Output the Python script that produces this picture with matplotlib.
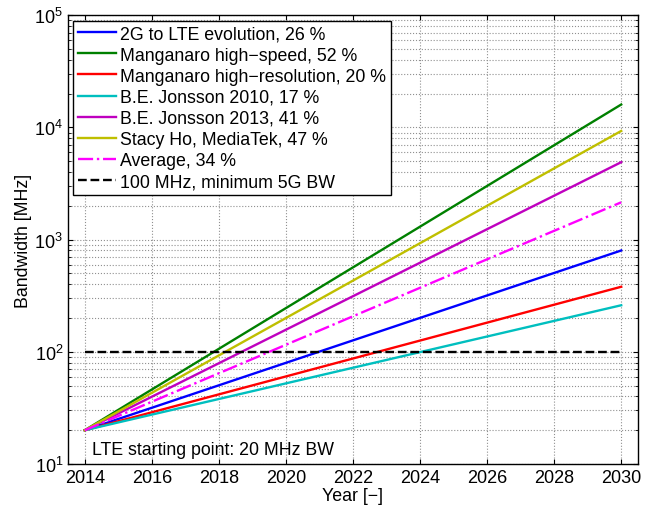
import numpy as np
import matplotlib
matplotlib.use('Agg')
from matplotlib import pyplot as plt

# start / end years and bandwidth
years = [2014, 2030]
start_bw = 20
labels = ['2G to LTE evolution, 26 %',
          'Manganaro high\u2212speed, 52 %',
          'Manganaro high\u2212resolution, 20 %',
          'B.E. Jonsson 2010, 17 %',
          'B.E. Jonsson 2013, 41 %',
          'Stacy Ho, MediaTek, 47 %',
          'Average, 34 %']
end_bw = [800, 16000, 380, 260, 4900, 9300, 2150]
min_5g = 100

colors = ['#0000ff', '#008000', '#ff0000', '#00bfbf', '#bf00bf', '#bfbf00', '#ff00ff']
styles = ['-', '-', '-', '-', '-', '-', '-.']

plt.rcParams['font.family'] = ['Liberation Sans', 'DejaVu Sans']
plt.rcParams['mathtext.fontset'] = 'custom'
plt.rcParams['mathtext.rm'] = 'Liberation Sans'

fig = plt.figure(figsize=(6.62, 5.1), dpi=100)
ax = fig.add_axes([0.1027, 0.0882, 0.861, 0.880])

for lab, end, c, ls in zip(labels, end_bw, colors, styles):
    ax.plot(years, [start_bw, end], color=c, ls=ls, lw=1.7, label=lab)
ax.plot(years, [min_5g, min_5g], 'k--', lw=1.7, label='100 MHz, minimum 5G BW')

ax.set_yscale('log')
ax.set_xlim(2013.5, 2030.5)
ax.set_ylim(10, 1e5)
ax.set_xticks(range(2014, 2031, 2))
ax.grid(True, which='major', ls=':', color='#909090', lw=0.8)
ax.grid(True, which='minor', axis='y', ls=':', color='#909090', lw=0.8)
ax.tick_params(which='both', direction='in', top=True, right=True, labelsize=13)
for s in ax.spines.values():
    s.set_linewidth(1.0)

ax.text(2014.22, 12.3, 'LTE starting point: 20 MHz BW', fontsize=12.8)
ax.set_xlabel('Year [\u2212]', fontsize=12.8, labelpad=1)
ax.set_ylabel('Bandwidth [MHz]', fontsize=12.8, labelpad=2)

leg = ax.legend(loc='upper left', fontsize=12.8, fancybox=False, framealpha=1,
                edgecolor='k', borderaxespad=0.3, handlelength=2.1,
                handletextpad=0.25, labelspacing=0.23, borderpad=0.28)
leg.get_frame().set_linewidth(1.0)

fig.savefig('out.png', dpi=100)
